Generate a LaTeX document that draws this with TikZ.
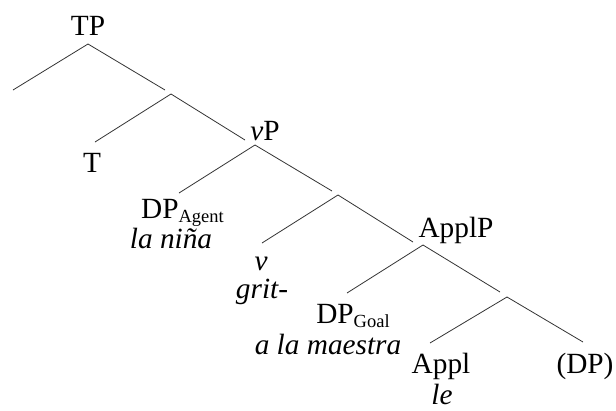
\documentclass[tikz,border=0pt]{standalone}
\usepackage{fontspec}
\setmainfont{Liberation Serif}
\newcommand{\sbs}[1]{\raisebox{-4.5pt}[0pt][0pt]{\fontsize{18.5}{19}\selectfont #1}}
\begin{document}
\begin{tikzpicture}[x=1pt,y=-1pt,
  lbl/.style={anchor=base,inner sep=0pt,font=\fontsize{29.3}{31}\selectfont},
  edge/.style={draw=black!80,line width=0.8pt}]
\useasboundingbox (0,0) rectangle (616,410);
% labels
\node[lbl] (TP) at (88,35) {TP};
\node[lbl] (T) at (92,172) {T};
\node[lbl] (vP) at (265,140) {\textit{v}P};
\node[lbl] (DPa) at (182.5,218) {DP\sbs{Agent}};
\node[lbl] (nina) at (171,248) {\textit{la niña}};
\node[lbl] (v) at (261,270) {\textit{v}};
\node[lbl] (grit) at (262,298) {\textit{grit-}};
\node[lbl] (ApplP) at (456,237) {ApplP};
\node[lbl] (DPg) at (353,323) {DP\sbs{Goal}};
\node[lbl] (maestra) at (328,354) {\textit{a la maestra}};
\node[lbl] (Appl) at (441,373) {Appl};
\node[lbl] (le) at (442,404) {\textit{le}};
\node[lbl] (DPo) at (585,373) {(DP)};
% attachment points
\coordinate (TPb) at (88,44);
\coordinate (spec) at (13,90);
\coordinate (Tbar) at (165,90);
\coordinate (Tbarb) at (171,94);
\coordinate (Tt) at (95,142);
\coordinate (vPt) at (245,140);
\coordinate (vPb) at (255,145);
\coordinate (DPat) at (179,193);
\coordinate (vbar) at (332,191);
\coordinate (vbarb) at (338,195);
\coordinate (vt) at (262,243);
\coordinate (ApplPt) at (413,242);
\coordinate (ApplPb) at (423,245);
\coordinate (DPgt) at (347,293);
\coordinate (Applbar) at (500,292);
\coordinate (Applbarb) at (507,297);
\coordinate (Applt) at (430,343);
\coordinate (DPot) at (583,342);
% edges
\draw[edge] (TPb) -- (spec);
\draw[edge] (TPb) -- (Tbar);
\draw[edge] (Tbarb) -- (Tt);
\draw[edge] (Tbarb) -- (vPt);
\draw[edge] (vPb) -- (DPat);
\draw[edge] (vPb) -- (vbar);
\draw[edge] (vbarb) -- (vt);
\draw[edge] (vbarb) -- (ApplPt);
\draw[edge] (ApplPb) -- (DPgt);
\draw[edge] (ApplPb) -- (Applbar);
\draw[edge] (Applbarb) -- (Applt);
\draw[edge] (Applbarb) -- (DPot);
\end{tikzpicture}
\end{document}
